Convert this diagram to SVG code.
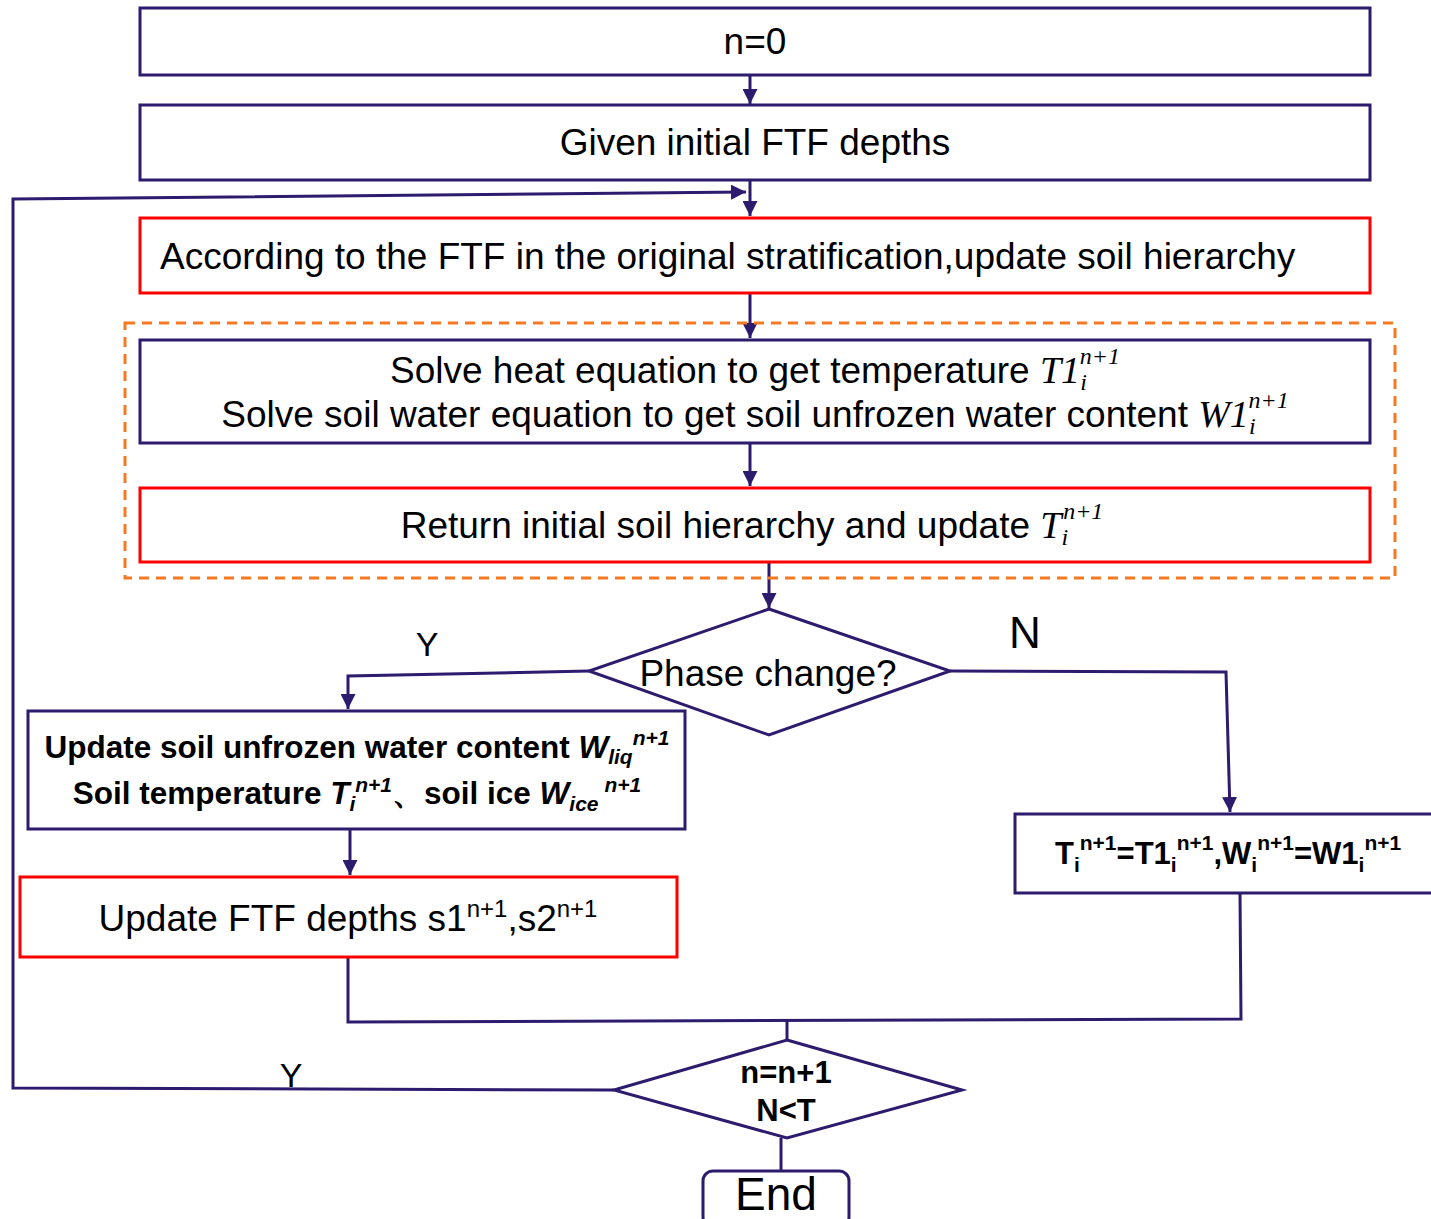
<svg xmlns="http://www.w3.org/2000/svg" width="1431" height="1219" viewBox="0 0 1431 1219">
<style>
.nv{fill:#fff;stroke:#2d1b6e;stroke-width:3}
.rd{fill:#fff;stroke:#ff0000;stroke-width:3}
.ln{fill:none;stroke:#2d1b6e;stroke-width:3}
.t{font-family:"Liberation Sans",Arial,sans-serif;fill:#000}
.b{font-weight:bold}
.m{font-family:"Liberation Serif","Times New Roman",serif;font-style:italic}
</style>
<defs>
<marker id="ar" viewBox="0 0 10 10" refX="10" refY="5" markerWidth="5" markerHeight="5" orient="auto" markerUnits="strokeWidth">
<path d="M0,0 L10,5 L0,10 z" fill="#2d1b6e"/>
</marker>
</defs>
<rect x="0" y="0" width="1431" height="1219" fill="#fff"/>
<g id="connectors">
<line class="ln" x1="750" y1="75" x2="750" y2="104" marker-end="url(#ar)"/>
<line class="ln" x1="750" y1="180" x2="750" y2="216" marker-end="url(#ar)"/>
<polyline class="ln" points="614,1090 13,1088 13,199 746,192" marker-end="url(#ar)"/>
<line class="ln" x1="750" y1="293" x2="750" y2="338" marker-end="url(#ar)"/>
<line class="ln" x1="750" y1="443" x2="750" y2="486" marker-end="url(#ar)"/>
<line class="ln" x1="769" y1="562" x2="769" y2="608" marker-end="url(#ar)"/>
<polyline class="ln" points="589,671 348,676 348,709" marker-end="url(#ar)"/>
<polyline class="ln" points="950,671 1226,672 1230,812" marker-end="url(#ar)"/>
<line class="ln" x1="350" y1="829" x2="350" y2="875" marker-end="url(#ar)"/>
<polyline class="ln" points="348,957 348,1022 1241,1019 1240,893"/>
<line class="ln" x1="787" y1="1021" x2="787" y2="1040"/>
<line class="ln" x1="781" y1="1138" x2="781" y2="1172"/>
<text class="t" x="427" y="656" font-size="34" text-anchor="middle">Y</text>
<text class="t" x="1025" y="648" font-size="44" text-anchor="middle">N</text>
<text class="t" x="291" y="1087" font-size="34" text-anchor="middle">Y</text>
</g>
<g id="n-start">
<rect class="nv" x="140" y="8" width="1230" height="67"/>
<text class="t" x="755" y="54" font-size="37" text-anchor="middle">n=0</text>
</g>
<g id="n-given">
<rect class="nv" x="140" y="105" width="1230" height="75"/>
<text class="t" x="755" y="155" font-size="37" text-anchor="middle">Given initial FTF depths</text>
</g>
<g id="n-update-hier">
<rect class="rd" x="140" y="218" width="1230" height="75"/>
<text class="t" x="160" y="269" font-size="37">According to the FTF in the original stratification,update soil hierarchy</text>
</g>
<g id="n-group">
<rect x="125" y="323" width="1270" height="255" fill="none" stroke="#f47920" stroke-width="3" stroke-dasharray="10,7"/>
</g>
<g id="n-solve">
<rect class="nv" x="140" y="340" width="1230" height="103"/>
<text class="t" x="755" y="383" font-size="37" text-anchor="middle">Solve heat equation to get temperature <tspan class="m" font-size="38">T1</tspan><tspan class="m" font-size="24" dy="7">i</tspan><tspan class="m" font-size="24" dx="-7" dy="-26">n+1</tspan></text>
<text class="t" x="755" y="427" font-size="37" text-anchor="middle">Solve soil water equation to get soil unfrozen water content <tspan class="m" font-size="38">W1</tspan><tspan class="m" font-size="24" dy="7">i</tspan><tspan class="m" font-size="24" dx="-7" dy="-26">n+1</tspan></text>
</g>
<g id="n-return">
<rect class="rd" x="140" y="488" width="1230" height="74"/>
<text class="t" x="752" y="538" font-size="37" text-anchor="middle">Return initial soil hierarchy and update <tspan class="m" font-size="38">T</tspan><tspan class="m" font-size="24" dy="7">i</tspan><tspan class="m" font-size="24" dx="-5" dy="-26">n+1</tspan></text>
</g>
<g id="n-phase">
<polygon class="nv" points="769,609 950,671 769,735 589,671"/>
<text class="t" x="768" y="686" font-size="37" text-anchor="middle">Phase change?</text>
</g>
<g id="n-update-water">
<rect class="nv" x="28" y="711" width="657" height="118"/>
<text class="t b" x="357" y="758" font-size="31.5" text-anchor="middle">Update soil unfrozen water content <tspan font-style="italic">W</tspan><tspan font-style="italic" font-size="21" dy="6">liq</tspan><tspan font-style="italic" font-size="21" dy="-19">n+1</tspan></text>
<text class="t b" x="357" y="804" font-size="31.5" text-anchor="middle">Soil temperature <tspan font-style="italic">T</tspan><tspan font-style="italic" font-size="21" dy="7">i</tspan><tspan font-style="italic" font-size="21" dy="-19">n+1</tspan><tspan dy="12">、soil ice </tspan><tspan font-style="italic">W</tspan><tspan font-style="italic" font-size="21" dy="7">ice</tspan><tspan font-style="italic" font-size="21" dy="-19"> n+1</tspan></text>
</g>
<g id="n-update-ftf">
<rect class="rd" x="20" y="877" width="657" height="80"/>
<text class="t" x="348" y="931" font-size="37" text-anchor="middle">Update FTF depths s1<tspan font-size="24" dy="-14">n+1</tspan><tspan dy="14">,s2</tspan><tspan font-size="24" dy="-14">n+1</tspan></text>
</g>
<g id="n-assign">
<rect class="nv" x="1015" y="814" width="430" height="79"/>
<text class="t b" x="1055" y="864" font-size="31">T<tspan font-size="21" dy="8">i</tspan><tspan font-size="21" dy="-22">n+1</tspan><tspan dy="14">=T1</tspan><tspan font-size="21" dy="8">i</tspan><tspan font-size="21" dy="-22">n+1</tspan><tspan dy="14">,W</tspan><tspan font-size="21" dy="8">i</tspan><tspan font-size="21" dy="-22">n+1</tspan><tspan dy="14">=W1</tspan><tspan font-size="21" dy="8">i</tspan><tspan font-size="21" dy="-22">n+1</tspan></text>
</g>
<g id="n-loop">
<polygon class="nv" points="787,1040 962,1090 787,1138 614,1090"/>
<text class="t b" x="786" y="1083" font-size="31" text-anchor="middle">n=n+1</text>
<text class="t b" x="786" y="1121" font-size="31" text-anchor="middle">N&lt;T</text>
</g>
<g id="n-end">
<rect class="nv" x="703" y="1171" width="146" height="56" rx="10"/>
<text class="t" x="776" y="1210" font-size="46" text-anchor="middle">End</text>
</g>
</svg>
